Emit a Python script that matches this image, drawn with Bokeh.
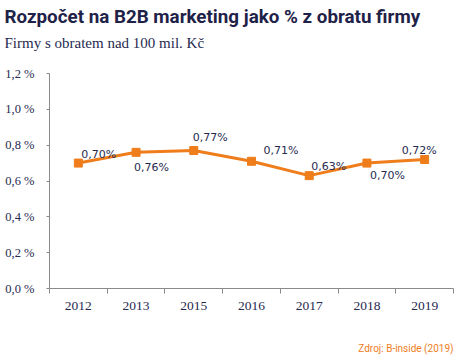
from bokeh.plotting import figure
from bokeh.models import (Range1d, FixedTicker, CustomJSTickFormatter, Title,
                          ColumnDataSource, LinearAxis)
from bokeh.core.properties import value
from bokeh.embed import file_html
from bokeh.resources import INLINE

years = ["2012", "2013", "2015", "2016", "2017", "2018", "2019"]
values = [0.70, 0.76, 0.77, 0.71, 0.63, 0.70, 0.72]
labels = ["0,70%", "0,76%", "0,77%", "0,71%", "0,63%", "0,70%", "0,72%"]
y_ticks = [0.0, 0.2, 0.4, 0.6, 0.8, 1.0, 1.2]
title_text = "Rozpočet na B2B marketing jako % z obratu firmy"
subtitle_text = "Firmy s obratem nad 100 mil. Kč"
source_text = "Zdroj: B-inside (2019)"

# label placement offsets (screen px) relative to the point
lab_dx = [3, -2, -1, 12, 2, 3, -23]
lab_dy = [-9, 15, -13, -11, -9, 12, -9]

NAVY = "#272a4f"
ORANGE = "#ef7d1b"

xs = [i + 0.5 for i in range(len(years))]
src = ColumnDataSource(dict(x=xs, y=values, lab=labels, dx=lab_dx, dy=lab_dy))

p = figure(width=455, height=360, output_backend="svg", toolbar_location=None,
           x_range=Range1d(0, len(years)), y_range=Range1d(0, 1.2),
           min_border_left=49, min_border_right=2, min_border_bottom=10,
           min_border_top=10, x_axis_type=None, y_axis_type=None)
p.outline_line_color = None
p.xgrid.visible = False
p.ygrid.visible = False
p.background_fill_color = "white"
p.border_fill_color = "white"
p.title = None

# above: spacer (closest to frame), subtitle, main title
p.add_layout(Title(text=" ", text_font_size="1px", standoff=18), "above")
p.add_layout(Title(text=subtitle_text, align="left",
                   text_font="Liberation Serif", text_font_size="15px",
                   text_font_style="normal", text_color=NAVY, offset=-45,
                   standoff=4), "above")
p.add_layout(Title(text=title_text, align="left", text_font="Roboto",
                   text_font_size="18.8px", text_font_style="bold",
                   text_color="#1f2248", offset=-45, standoff=6), "above")

# axes
xaxis = LinearAxis(
    ticker=FixedTicker(ticks=xs, minor_ticks=list(range(len(years) + 1))),
    formatter=CustomJSTickFormatter(args=dict(years=years),
                                    code="return years[Math.floor(tick)]"),
    axis_line_color="#8a8a8a", major_tick_out=0, major_tick_in=0,
    minor_tick_out=5, minor_tick_in=0, minor_tick_line_color="#8a8a8a",
    major_label_text_font="Liberation Serif",
    major_label_text_font_size="13.5px", major_label_text_color=NAVY,
    major_label_standoff=8)
p.add_layout(xaxis, "below")

yaxis = LinearAxis(
    ticker=FixedTicker(ticks=y_ticks),
    formatter=CustomJSTickFormatter(
        code="return tick.toFixed(1).replace('.', ',') + ' %'"),
    axis_line_color="#8a8a8a", major_tick_out=3, major_tick_in=0,
    major_tick_line_color="#8a8a8a", minor_tick_out=0, minor_tick_in=0,
    major_label_text_font="Liberation Serif",
    major_label_text_font_size="12.5px", major_label_text_color=NAVY,
    major_label_standoff=12)
p.add_layout(yaxis, "left")

# below: spacer then source note
p.add_layout(Title(text=" ", text_font_size="1px", standoff=18), "below")
p.add_layout(Title(text=source_text, align="right", text_font="Roboto",
                   text_font_size="10px", text_font_style="normal",
                   text_color=ORANGE, standoff=14), "below")

p.line("x", "y", source=src, line_color=ORANGE, line_width=3)
p.scatter("x", "y", source=src, marker="square", size=8,
          fill_color=ORANGE, line_color=ORANGE)
p.text("x", "y", text="lab", source=src, x_offset="dx", y_offset="dy",
       text_font=value("DejaVu Sans"), text_font_size="11px",
       text_color=NAVY, text_align="left", text_baseline="middle")

open("out.html", "w").write(file_html(p, INLINE))
